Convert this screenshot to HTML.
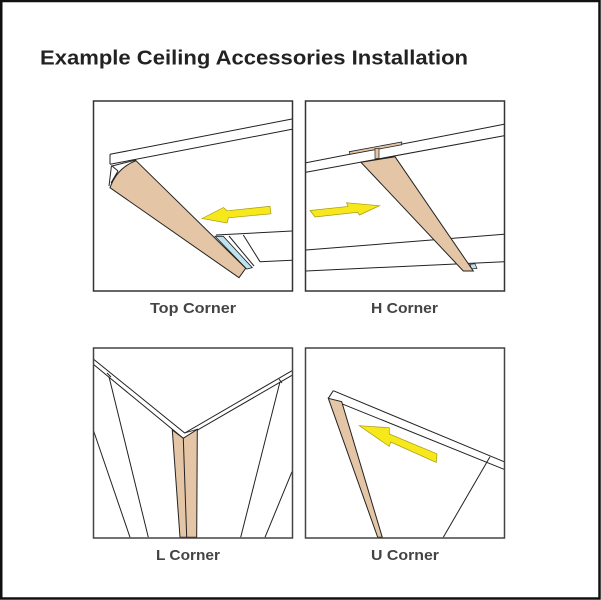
<!DOCTYPE html>
<html><head><meta charset="utf-8"><style>
html,body{margin:0;padding:0;background:#fff;}
svg{display:block;}
text{font-family:"Liberation Sans",sans-serif;}
</style></head><body>
<svg width="601" height="600" viewBox="0 0 601 600" xmlns="http://www.w3.org/2000/svg">
<rect x="0" y="0" width="601" height="600" fill="#fff"/>
<rect x="1.25" y="1" width="598.25" height="597.5" fill="none" stroke="#111" stroke-width="2.5"/>

<text x="40" y="64.5" font-size="20.5" font-weight="bold" fill="#222" textLength="428" lengthAdjust="spacingAndGlyphs">Example Ceiling Accessories Installation</text>

<!-- Panel 1: Top Corner -->
<g stroke="#222" stroke-width="1" fill="none" stroke-linejoin="round">
  <line x1="110" y1="154.3" x2="292" y2="119"/>
  <line x1="110" y1="164.3" x2="292" y2="129.3"/>
  <line x1="110" y1="154.3" x2="110" y2="164.3"/>
  <line x1="111.5" y1="165.5" x2="118" y2="171"/>
  <line x1="111.5" y1="165.5" x2="109" y2="186"/>
  <line x1="118" y1="171" x2="111" y2="183"/>
  <line x1="112" y1="166" x2="136" y2="160"/>
  <line x1="216" y1="235" x2="292" y2="231"/>
  <polyline points="243.3,235 260,261.7 292,260.3"/>
  <line x1="229" y1="236" x2="254" y2="266"/>
</g>
<polygon points="215,236.3 223.3,236.3 252.3,267.7 246.7,269" fill="#bfe2f0" stroke="#222" stroke-width="0.8"/>
<path d="M136,160.7 L245.7,268.3 L239,277.7 L110,187.7 Q117,168 136,160.7 Z" fill="#e4c6a6" stroke="#222" stroke-width="1"/>
<polygon points="202,218.5 223.5,207.5 227,210.8 270,206.3 271,213.8 228.5,217.8 227,223" fill="#f6e81a" stroke="#a89a10" stroke-width="0.7"/>
<rect x="93.5" y="101" width="199" height="190" fill="none" stroke="#333" stroke-width="1.5"/>

<!-- Panel 2: H Corner -->
<g stroke="#222" stroke-width="1" fill="none">
  <line x1="306" y1="162.7" x2="504" y2="124.3"/>
  <line x1="306" y1="172.3" x2="504" y2="135.7"/>
  <line x1="306" y1="250" x2="504" y2="234.3"/>
  <line x1="306" y1="271" x2="504" y2="261.7"/>
</g>
<polygon points="349.3,151.7 401.7,142 401.7,144.8 350,154.3" fill="#e4c6a6" stroke="#222" stroke-width="0.8"/>
<rect x="375" y="148.5" width="4" height="10" fill="#e4c6a6" stroke="#222" stroke-width="0.7"/>
<polygon points="470,264.3 475,263.8 477,268.5 471.5,268.8" fill="#bfe2f0" stroke="#222" stroke-width="0.7"/>
<polygon points="361,162.3 395,156.7 473.3,271 463.3,271" fill="#e4c6a6" stroke="#222" stroke-width="1"/>
<polygon points="310,210.5 348,206.5 346.5,202.8 379.5,205.7 359.5,215 357.5,212.3 315,217" fill="#f6e81a" stroke="#a89a10" stroke-width="0.7"/>
<rect x="305.5" y="101" width="199" height="190" fill="none" stroke="#333" stroke-width="1.5"/>

<text x="193" y="313" font-size="15" font-weight="bold" fill="#444" text-anchor="middle" textLength="86" lengthAdjust="spacingAndGlyphs">Top Corner</text>
<text x="404.5" y="313" font-size="15" font-weight="bold" fill="#444" text-anchor="middle" textLength="67" lengthAdjust="spacingAndGlyphs">H Corner</text>

<!-- Panel 3: L Corner -->
<g stroke="#222" stroke-width="1" fill="none">
  <polyline points="93.3,359 184.7,433 292,370.7"/>
  <polyline points="93.3,364.3 183.3,438.3 292,375.3"/>
  <line x1="109" y1="376.7" x2="148.3" y2="537.3"/>
  <line x1="93.3" y1="430" x2="130" y2="537.3"/>
  <line x1="280" y1="381.7" x2="240.7" y2="537.3"/>
  <line x1="292" y1="471.7" x2="265" y2="537.3"/>
  <line x1="107" y1="373" x2="111" y2="377"/>
  <line x1="279" y1="379" x2="282" y2="383"/>
</g>
<polygon points="172.3,430 183.3,438.3 197.3,429.3 196.7,537.3 180,537.3" fill="#e4c6a6" stroke="#222" stroke-width="1"/>
<line x1="183.3" y1="438.3" x2="186.7" y2="537.3" stroke="#222" stroke-width="1"/>
<line x1="184.7" y1="433" x2="197.3" y2="429.3" stroke="#222" stroke-width="0.8"/>
<rect x="93.5" y="348" width="199" height="190" fill="none" stroke="#444" stroke-width="1.5"/>

<!-- Panel 4: U Corner -->
<g stroke="#222" stroke-width="1" fill="none">
  <line x1="333.3" y1="390.7" x2="504" y2="461.7"/>
  <line x1="328.3" y1="398.3" x2="504" y2="469.3"/>
  <line x1="333.3" y1="390.7" x2="328.3" y2="398.3"/>
  <line x1="490" y1="456.7" x2="443.3" y2="537.3"/>
</g>
<polygon points="328.3,398.3 341.7,401.7 382.3,537.3 377.7,537.3" fill="#e4c6a6" stroke="#222" stroke-width="1"/>
<polygon points="359.3,425.7 389.3,427.7 389.3,434 437,453.8 436.3,462.5 390.7,442 389.3,446.5" fill="#f6e81a" stroke="#a89a10" stroke-width="0.7"/>
<rect x="305.5" y="348" width="199" height="190" fill="none" stroke="#444" stroke-width="1.5"/>

<text x="188" y="560" font-size="15" font-weight="bold" fill="#444" text-anchor="middle" textLength="64" lengthAdjust="spacingAndGlyphs">L Corner</text>
<text x="405" y="560" font-size="15" font-weight="bold" fill="#444" text-anchor="middle" textLength="68" lengthAdjust="spacingAndGlyphs">U Corner</text>
</svg>
</body></html>
